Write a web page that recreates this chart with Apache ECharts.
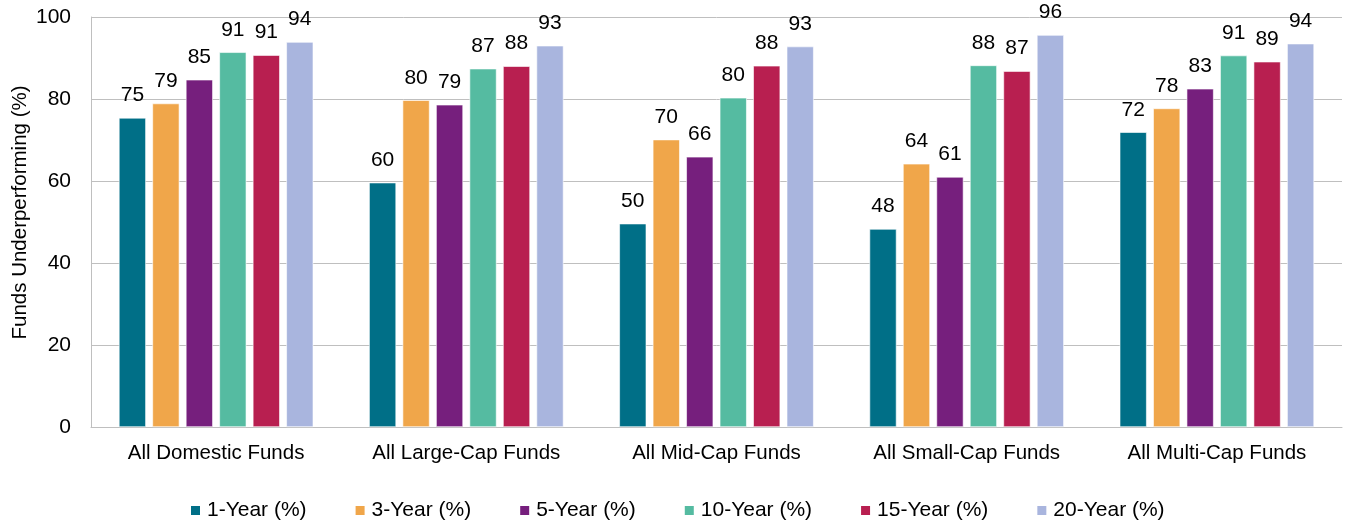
<!DOCTYPE html>
<html>
<head>
<meta charset="utf-8">
<script src="https://cdn.jsdelivr.net/npm/echarts@6/dist/echarts.min.js"></script>
<style>
  html, body { margin: 0; padding: 0; background: #fff; }
  #chart { width: 1348px; height: 523px; }
</style>
</head>
<body>
<div id="chart"></div>
<script>
// Share of funds underperforming their benchmark, by fund group and horizon
const categories = ['All Domestic Funds', 'All Large-Cap Funds', 'All Mid-Cap Funds', 'All Small-Cap Funds', 'All Multi-Cap Funds'];
const seriesNames = ['1-Year (%)', '3-Year (%)', '5-Year (%)', '10-Year (%)', '15-Year (%)', '20-Year (%)'];
const year1  = [75.4, 59.6, 49.6, 48.3, 71.9];
const year3  = [78.9, 79.7, 70.1, 64.2, 77.7];
const year5  = [84.7, 78.6, 65.9, 61.0, 82.5];
const year10 = [91.4, 87.4, 80.3, 88.2, 90.6];
const year15 = [90.7, 88.0, 88.1, 86.8, 89.1];
const year20 = [93.9, 93.0, 92.8, 95.6, 93.5];
const yTicks = [0, 20, 40, 60, 80, 100];

const colors = ['#006f87', '#f0a64a', '#761f7d', '#55bba1', '#b81f50', '#a9b5de'];
const values = [year1, year3, year5, year10, year15, year20];
const FONT = '"Liberation Sans", Arial, sans-serif';

const chart = echarts.init(document.getElementById('chart'), null, { renderer: 'canvas' });

chart.setOption({
  animation: false,
  color: colors,
  textStyle: { fontFamily: FONT },
  grid: { left: 91, right: 6, top: 17, bottom: 96, containLabel: false, outerBoundsMode: 'none' },
  legend: {
    bottom: 2,
    left: 189,
    padding: 0,
    icon: 'rect',
    itemWidth: 11,
    itemHeight: 11,
    itemGap: 47,
    textStyle: { fontFamily: FONT, fontSize: 21, color: '#000', padding: [0, 0, 0, 1] },
    data: seriesNames
  },
  xAxis: {
    type: 'category',
    data: categories,
    axisLine: { show: true, lineStyle: { color: '#bfbfbf', width: 1 } },
    axisTick: { show: false },
    axisLabel: { fontFamily: FONT, fontSize: 20.5, color: '#000', margin: 16 }
  },
  yAxis: {
    type: 'value',
    min: yTicks[0],
    max: yTicks[yTicks.length - 1],
    interval: yTicks[1] - yTicks[0],
    name: 'Funds Underperforming (%)',
    nameLocation: 'middle',
    nameGap: 60,
    nameMoveOverlap: false,
    nameTextStyle: { fontFamily: FONT, fontSize: 20.5, color: '#000', padding: [0, 0, 0, 19] },
    axisLine: { show: true, lineStyle: { color: '#bfbfbf', width: 1 } },
    axisTick: { show: false },
    axisLabel: { fontFamily: FONT, fontSize: 21, color: '#000', margin: 20 },
    splitLine: { show: true, lineStyle: { color: '#bfbfbf', width: 1 } }
  },
  series: seriesNames.map((name, i) => ({
    name: name,
    type: 'bar',
    data: values[i],
    barWidth: 27,
    barGap: '24%',
    itemStyle: { color: colors[i], borderColor: '#ffffff', borderWidth: 0.6 },
    label: {
      show: true,
      position: 'top',
      distance: 12,
      fontFamily: FONT,
      fontSize: 21,
      color: '#000',
      formatter: p => Math.round(p.value)
    }
  }))
});
</script>
</body>
</html>
